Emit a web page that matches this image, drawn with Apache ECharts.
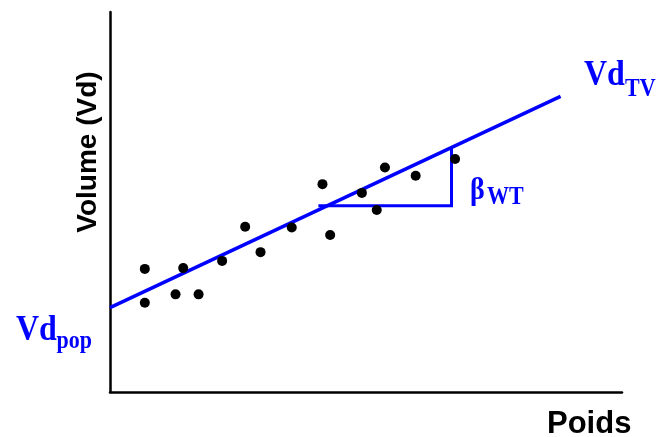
<!DOCTYPE html>
<html>
<head>
<meta charset="utf-8">
<script src="https://cdn.jsdelivr.net/npm/echarts@6/dist/echarts.min.js"></script>
<style>
  html, body { margin: 0; padding: 0; background: #ffffff; }
  #chart { width: 659px; height: 437px; }
</style>
</head>
<body>
<div id="chart"></div>
<script>
// Observed individuals: weight (x) and volume of distribution (y), arbitrary units
const weights = [6.8, 6.8, 14.3, 12.8, 17.3, 21.9, 26.4, 29.4, 35.5, 41.5, 43.0, 49.2, 52.1, 53.7, 59.7, 67.4];
const volumes = [32.4, 23.5, 32.6, 25.7, 25.7, 34.5, 43.5, 36.8, 43.3, 54.7, 41.3, 52.4, 47.9, 59.1, 56.9, 61.3];

// Population regression line: intercept Vd_pop, slope beta_WT
const fitX = [0, 88];
const fitY = [22.2, 77.8];

// Slope triangle (run then rise)
const slopeX = [40.7, 66.7, 66.7];
const slopeY = [49.0, 49.0, 64.4];

const BLUE = '#0000ff';
const SERIF = '"Liberation Serif", "Times New Roman", serif';
const SANS = '"Liberation Sans", Arial, sans-serif';

const zip = (xs, ys) => xs.map((x, i) => [x, ys[i]]);

const chart = echarts.init(document.getElementById('chart'));

// Bold text element; serif labels are drawn slightly taller than wide
function txt(text, x, y, size, family, color, stretch) {
  return {
    type: 'text',
    x: x, y: y,
    scaleY: stretch || 1,
    style: {
      text: text,
      font: 'bold ' + size + 'px ' + family,
      fill: color,
      textAlign: 'left',
      textVerticalAlign: 'middle'
    },
    z: 10
  };
}

chart.setOption({
  animation: false,
  backgroundColor: '#ffffff',
  grid: { left: 110, right: 37, top: 12, bottom: 45, containLabel: false },
  xAxis: {
    type: 'value', min: 0, max: 100,
    axisLine: { show: true, lineStyle: { color: '#000', width: 2.5 } },
    axisTick: { show: false }, axisLabel: { show: false }, splitLine: { show: false }
  },
  yAxis: {
    type: 'value', min: 0, max: 100,
    axisLine: { show: true, lineStyle: { color: '#000', width: 2.5 } },
    axisTick: { show: false }, axisLabel: { show: false }, splitLine: { show: false }
  },
  series: [
    {
      type: 'line',
      data: zip(fitX, fitY),
      symbol: 'none',
      lineStyle: { color: BLUE, width: 3.5, cap: 'butt' },
      z: 3
    },
    {
      type: 'line',
      data: zip(slopeX, slopeY),
      symbol: 'none',
      lineStyle: { color: BLUE, width: 3, join: 'miter', cap: 'butt' },
      z: 3
    },
    {
      type: 'scatter',
      data: zip(weights, volumes),
      symbol: 'circle',
      symbolSize: 10,
      itemStyle: { color: '#000', opacity: 1 },
      z: 5
    }
  ],
  graphic: [
    {
      type: 'text',
      x: 88, y: 152,
      rotation: Math.PI / 2,
      style: {
        text: 'Volume (Vd)', font: 'bold 28px ' + SANS, fill: '#000',
        textAlign: 'center', textVerticalAlign: 'middle'
      },
      z: 10
    },
    txt('Poids', 547, 424, 31, SANS, '#000'),
    txt('Vd', 584, 75.5, 32, SERIF, BLUE, 1.12),
    txt('TV', 625, 89.5, 22, SERIF, BLUE, 1.1),
    txt('Vd', 16, 331, 32, SERIF, BLUE, 1.12),
    txt('pop', 56.5, 342, 22, SERIF, BLUE, 1.1),
    txt('β', 470, 191, 28, SERIF, BLUE, 1.1),
    txt('WT', 487, 197.5, 22, SERIF, BLUE, 1.1)
  ]
});
</script>
</body>
</html>
